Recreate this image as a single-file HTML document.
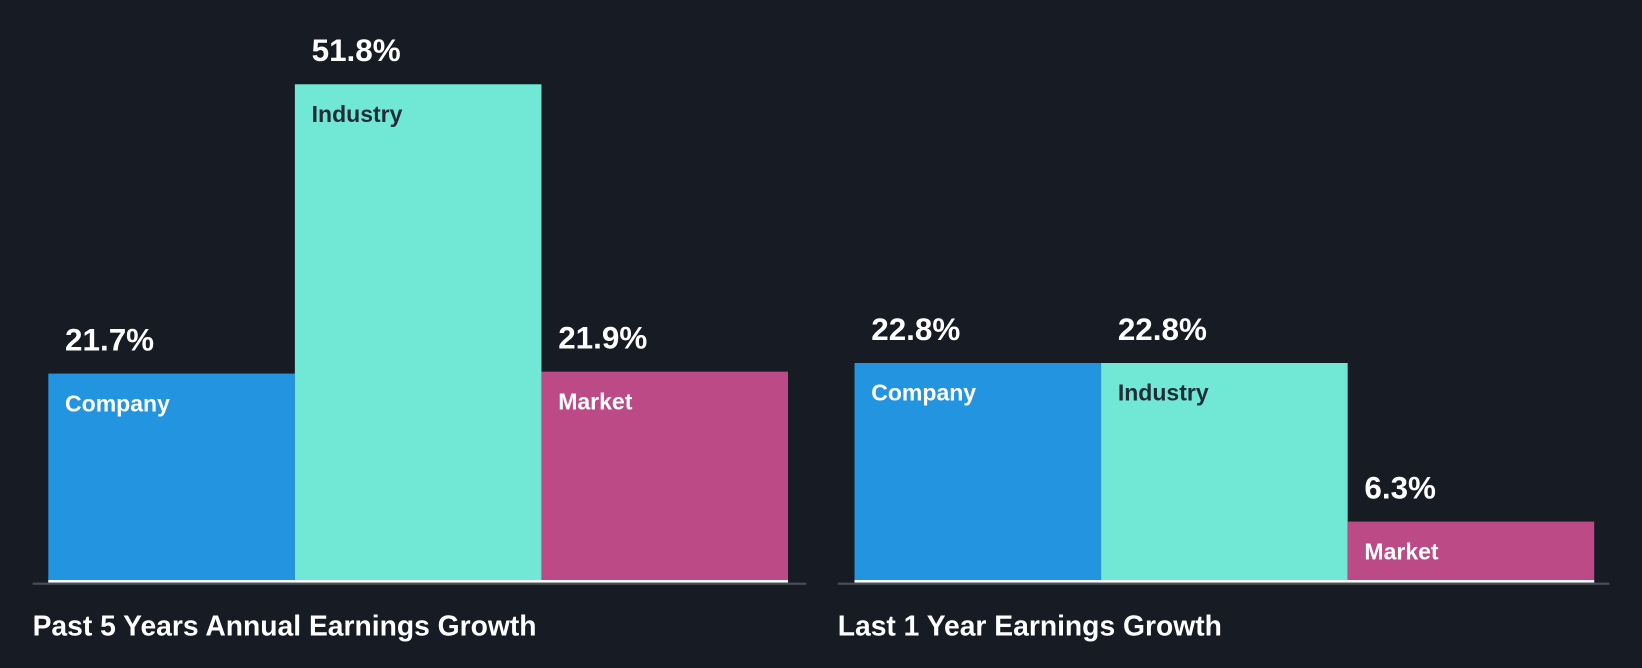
<!DOCTYPE html>
<html><head><meta charset="utf-8"><style>
html,body{margin:0;padding:0;background:#161b24;width:1642px;height:668px;overflow:hidden}
svg text{font-family:"Liberation Sans",Arial,sans-serif;font-weight:bold}
</style></head><body>
<svg id="chart" width="1642" height="668" viewBox="0 0 1568 638" xmlns="http://www.w3.org/2000/svg">
<rect width="1568" height="638" fill="#161b24"/>
</svg>
<script>
const categories = ["Company", "Industry", "Market"];
const past5Values = [21.7, 51.8, 21.9];
const last1Values = [22.8, 22.8, 6.3];
const panelTitles = ["Past 5 Years Annual Earnings Growth", "Last 1 Year Earnings Growth"];

const colors = ["#2394df", "#70e8d5", "#bb4a86"];
const labelColors = ["#ffffff", "#1f2d36", "#ffffff"];
const baseY = 556, pxPerPct = 9.18, barW = 235.5;
const panels = [{x0: 46, axis: [31, 770], values: past5Values}, {x0: 816, axis: [800, 1537], values: last1Values}];
const svg = document.getElementById('chart');
const NS = "http://www.w3.org/2000/svg";
function y(v){ return baseY - v * pxPerPct; }
function mk(tag, attrs){ const e = document.createElementNS(NS, tag); for (const k in attrs) e.setAttribute(k, attrs[k]); svg.appendChild(e); return e; }

panels.forEach((p, pi) => {
  p.values.forEach((v, i) => {
    const x = p.x0 + i * barW;
    const r = mk('rect', {x: x, y: y(v), width: barW, height: baseY - y(v), fill: colors[i]});
    
    
    const vt = mk('text', {x: x + 16, y: y(v) - 22, fill: '#ffffff', 'font-size': 30});
    vt.textContent = v.toFixed(1) + '%';
    
    
    const ct = mk('text', {x: x + 16, y: y(v) + 36, fill: labelColors[i], 'font-size': 22});
    ct.textContent = categories[i];
    
    
  });
  const wl = mk('rect', {x: p.x0, y: baseY - 2, width: barW * 3, height: 2.5, fill: '#ffffff'});
  
  
  const ax = mk('rect', {x: p.axis[0], y: baseY + 0.5, width: p.axis[1] - p.axis[0], height: 2, fill: '#4a4f57'});
  
  
  const t = mk('text', {x: p.axis[0], y: 607, fill: '#ffffff', 'font-size': 27});
  t.textContent = panelTitles[pi];
  
  
});
</script>
</body></html>
